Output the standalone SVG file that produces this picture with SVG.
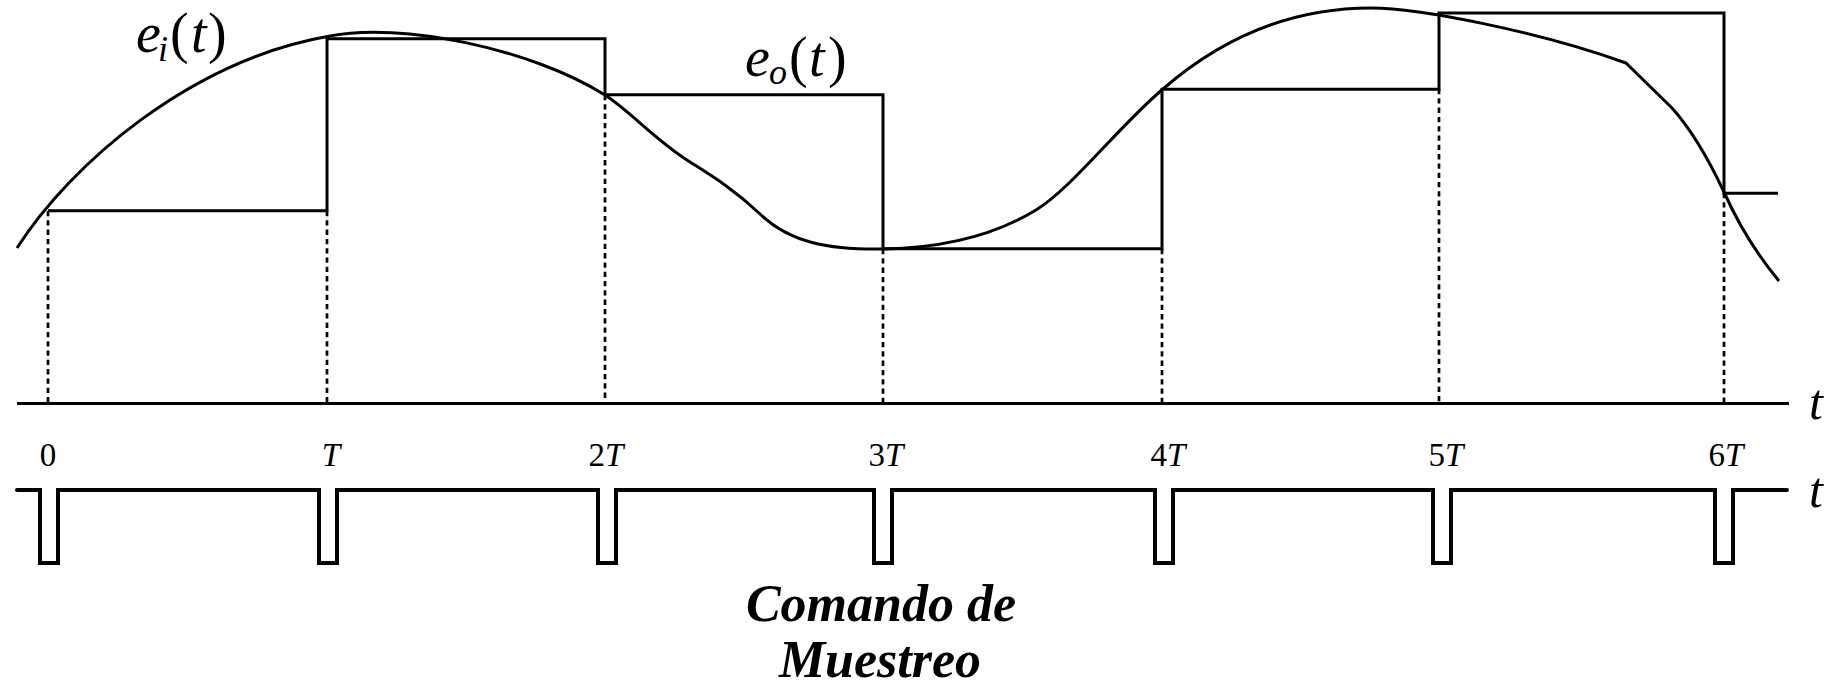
<svg xmlns="http://www.w3.org/2000/svg" width="1824" height="687" viewBox="0 0 1824 687">
<style>
.ln{fill:none;stroke:#000;stroke-width:3;stroke-linejoin:miter}
.pulse{fill:none;stroke:#000;stroke-width:4;stroke-linejoin:miter;stroke-linecap:round}
.dash{fill:none;stroke:#000;stroke-width:2.7;stroke-dasharray:5.3 4}
.lbl{font-family:"Liberation Serif","Times New Roman",serif;fill:#000}
.it{font-style:italic}
.tick{font-family:"Liberation Serif","Times New Roman",serif;font-size:33px;fill:#000;text-anchor:middle}
.cap{font-family:"Liberation Serif","Times New Roman",serif;font-size:52px;font-weight:bold;font-style:italic;fill:#000;text-anchor:middle}
</style>
<rect width="1824" height="687" fill="#fff"/>
<g id="connectors">
  <g id="sample-lines">
    <line class="dash" x1="48" y1="211" x2="48" y2="403"/>
    <line class="dash" x1="327" y1="211" x2="327" y2="403"/>
    <line class="dash" x1="605" y1="95" x2="605" y2="403"/>
    <line class="dash" x1="883" y1="249" x2="883" y2="403"/>
    <line class="dash" x1="1162" y1="249" x2="1162" y2="403"/>
    <line class="dash" x1="1439" y1="89" x2="1439" y2="403"/>
    <line class="dash" x1="1724" y1="193" x2="1724" y2="403"/>
  </g>
  <path id="axis" class="ln" d="M17 403.5 H1789"/>
  <path id="eo" class="ln" d="M48 210.7 H327 V38.7 H605 V94.7 H883 V248.7 H1162 V89.3 H1439 V13 H1724 V193.3 H1778"/>
  <path id="ei" class="ln" d="M17 248 C70 165 190 60 330 36 C400 22 530 48 605 95 C630 111 655 140 690 162 C712 176 735 190 760 214 C790 243 830 250 884 249 C950 247.8 1000 232 1036 210 C1072 188 1120 125 1163 89 C1225 35 1295 8 1371 8 C1420 8 1540 32 1626 63 L1672 108 C1690 128 1708 158 1724 192 C1740 228 1760 258 1779 281"/>
  <path id="pulses" class="pulse" d="M17 490 H40 V563 H58 V490 H319 V563 H337 V490 H598 V563 H616 V490 H874 V563 H892 V490 H1155 V563 H1173 V490 H1433 V563 H1451 V490 H1715 V563 H1733 V490 H1787"/>
</g>
<g id="label-ei">
  <text class="lbl it" x="136" y="52" font-size="56">e</text>
  <text class="lbl it" x="158" y="61" font-size="36">i</text>
  <text class="lbl" x="170" y="52" font-size="56">(</text>
  <text class="lbl it" x="191" y="52" font-size="56">t</text>
  <text class="lbl" x="208" y="52" font-size="56">)</text>
</g>
<g id="label-eo">
  <text class="lbl it" x="745" y="76" font-size="56">e</text>
  <text class="lbl it" x="769" y="84" font-size="36">o</text>
  <text class="lbl" x="789" y="76" font-size="56">(</text>
  <text class="lbl it" x="809" y="76" font-size="56">t</text>
  <text class="lbl" x="828" y="76" font-size="56">)</text>
</g>
<g id="axis-labels">
  <text class="lbl it" x="1809" y="419" font-size="50">t</text>
  <text class="lbl it" x="1809" y="507" font-size="50">t</text>
</g>
<g id="ticks">
  <text class="tick" x="48" y="466">0</text>
  <text class="tick it" x="331" y="466">T</text>
  <text class="tick" x="606" y="466">2<tspan class="it">T</tspan></text>
  <text class="tick" x="886" y="466">3<tspan class="it">T</tspan></text>
  <text class="tick" x="1168" y="466">4<tspan class="it">T</tspan></text>
  <text class="tick" x="1446" y="466">5<tspan class="it">T</tspan></text>
  <text class="tick" x="1726" y="466">6<tspan class="it">T</tspan></text>
</g>
<g id="caption">
  <text class="cap" x="881" y="621">Comando de</text>
  <text class="cap" x="880" y="677">Muestreo</text>
</g>
</svg>
